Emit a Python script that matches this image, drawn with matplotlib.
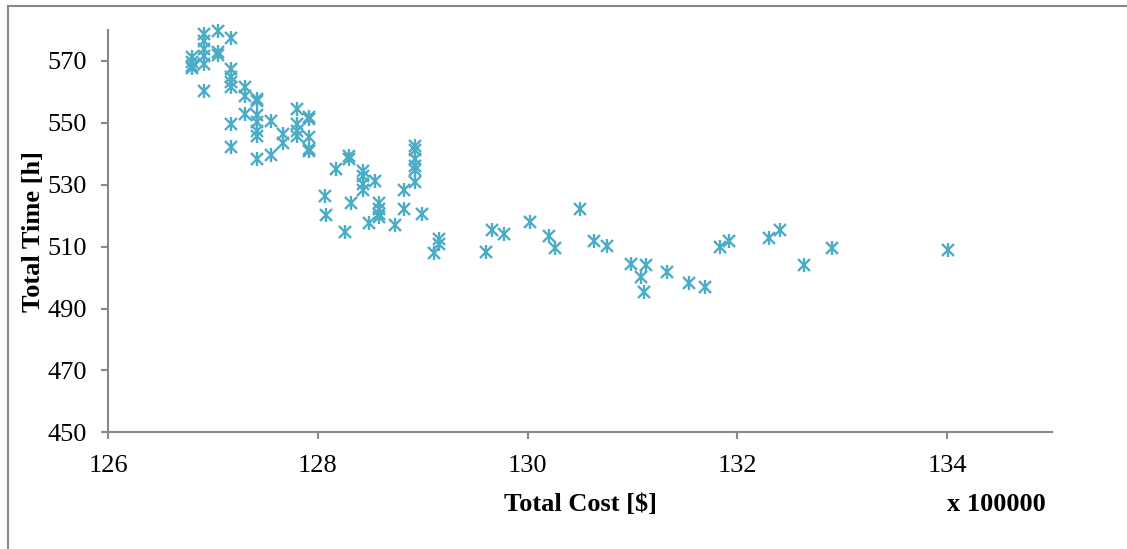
import matplotlib
matplotlib.use("Agg")
import matplotlib.pyplot as plt
from matplotlib.lines import Line2D

# Total cost (x 100000 $) and total time (h)
cost = [
    126.80, 126.80, 126.80, 126.80,
    126.92, 126.92, 126.92, 126.92, 126.92, 126.92,
    127.05, 127.05, 127.05,
    127.17, 127.17, 127.17, 127.17, 127.17, 127.17, 127.17,
    127.31, 127.31, 127.31,
    127.42, 127.42, 127.42, 127.42, 127.42, 127.42, 127.42,
    127.55, 127.55,
    127.67, 127.67,
    127.80, 127.80, 127.80, 127.80,
    127.92, 127.92, 127.92, 127.92, 127.92,
    128.07, 128.08, 128.17, 128.26, 128.30, 128.30, 128.32,
    128.43, 128.43, 128.43, 128.43, 128.49, 128.55,
    128.58, 128.58, 128.58, 128.58, 128.74, 128.82, 128.82,
    128.93, 128.93, 128.93, 128.93, 128.93, 128.93,
    128.99, 129.11, 129.16, 129.16,
    129.60, 129.66, 129.78, 130.02, 130.20, 130.26, 130.50, 130.63, 130.76,
    130.99, 131.08, 131.11, 131.13, 131.33, 131.54, 131.69, 131.83, 131.92,
    132.30, 132.41, 132.64, 132.90, 134.01,
]
time_h = [
    571.3, 569.8, 568.5, 567.7,
    578.7, 576.6, 573.8, 571.7, 569.0, 560.4,
    579.8, 572.8, 571.8,
    577.3, 567.4, 564.7, 563.1, 561.5, 549.7, 542.1,
    561.5, 558.8, 552.9,
    557.7, 557.2, 552.4, 550.2, 547.5, 545.9, 538.4,
    550.7, 539.5,
    546.5, 543.5,
    554.5, 549.7, 547.5, 545.9,
    551.8, 551.2, 545.4, 541.6, 541.0,
    526.2, 520.1, 535.2, 514.7, 539.4, 538.4, 524.1,
    534.5, 532.8, 530.3, 528.2, 517.6, 531.2,
    524.0, 522.3, 520.4, 519.6, 516.9, 528.2, 522.3,
    542.5, 541.1, 538.4, 536.2, 534.6, 530.8,
    520.6, 507.9, 512.6, 511.0,
    508.3, 515.5, 514.2, 517.9, 513.3, 509.4, 522.3, 511.8, 510.2,
    504.5, 500.2, 495.4, 504.0, 501.8, 498.3, 496.8, 509.9, 511.9,
    512.9, 515.5, 504.2, 509.4, 509.0,
]

x_ticks = [126, 128, 130, 132, 134]
y_ticks = [450, 470, 490, 510, 530, 550, 570]

plt.rcParams['font.family'] = ['Liberation Serif', 'DejaVu Serif']
W, H = 1127, 549
axis_gray = '#898989'
marker_col = '#4BACC6'

fig = plt.figure(figsize=(W / 100, H / 100), dpi=100)

# outer chart-area border (left and top edges are visible in the reference)
fig.add_artist(Line2D([8 / W, 8 / W], [0, 1 - 6 / H], transform=fig.transFigure,
                      color=axis_gray, lw=1.5))
fig.add_artist(Line2D([8 / W, 1], [1 - 6 / H, 1 - 6 / H], transform=fig.transFigure,
                      color=axis_gray, lw=1.5))

ax = fig.add_axes([108 / W, 1 - 432.3 / H, (1052 - 108) / W, (432.3 - 30) / H])

# star marker = x plus vertical bar
ax.plot(cost, time_h, linestyle='none', marker='x', markersize=8.5,
        markeredgewidth=1.7, color=marker_col, clip_on=False)
ax.plot(cost, time_h, linestyle='none', marker='|', markersize=9.5,
        markeredgewidth=1.7, color=marker_col, clip_on=False)

ax.set_xlim(126, 135)
ax.set_ylim(450, 580)
ax.set_xticks(x_ticks)
ax.set_yticks(y_ticks)
ax.tick_params(direction='out', length=5, width=1.5, color=axis_gray,
               labelsize=19)
ax.tick_params(axis='x', pad=11)
ax.tick_params(axis='y', pad=10)

for side in ['top', 'right']:
    ax.spines[side].set_visible(False)
for side in ['left', 'bottom']:
    ax.spines[side].set_color(axis_gray)
    ax.spines[side].set_linewidth(1.5)

ax.set_xlabel("Total Cost [$]", fontsize=19, fontweight='bold', labelpad=12)
ax.set_ylabel("Total Time [h]", fontsize=19, fontweight='bold', labelpad=2)
fig.text(1046 / W, 1 - 511 / H, "x 100000", fontsize=19, fontweight='bold',
         ha='right', va='baseline')

fig.savefig("out.png", dpi=100)
